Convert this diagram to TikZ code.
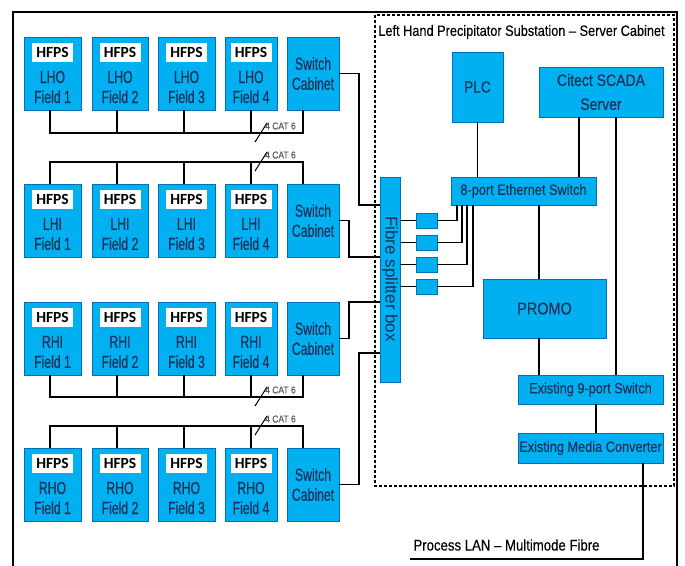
\documentclass[tikz,border=0pt]{standalone}
\usepackage{fontspec}
\setmainfont{Liberation Sans}
\newfontfamily\narrowf[FakeStretch=0.7, FakeBold=0.3]{Liberation Sans}
\newfontfamily\semif[FakeStretch=0.85, FakeBold=0.25]{Liberation Sans}
\newfontfamily\hfpsf{Carlito}
\definecolor{boxfill}{RGB}{0,176,240}
\definecolor{boxline}{RGB}{0,112,180}
\definecolor{boxtext}{RGB}{28,50,90}
\begin{document}
\begin{tikzpicture}[x=1pt,y=-1pt,
  box/.style={draw=boxline, line width=0.8pt, fill=boxfill, inner sep=0pt, outer sep=0pt},
  wire/.style={line width=1.8pt, black},
  wiret/.style={line width=1.4pt, black},
  lbl/.style={font=\hfpsf\bfseries\fontsize{15.5}{16}\selectfont, fill=white, inner sep=0pt, minimum width=41pt, minimum height=19pt, text=black},
  fieldtxt/.style={font=\narrowf\fontsize{17.5}{20}\selectfont, text=boxtext, align=center, inner sep=0pt},
  semitxt/.style={font=\semif\fontsize{15}{18}\selectfont, text=boxtext, align=center},
  cat/.style={font=\semif\fontsize{10}{10}\selectfont, text=black!65, inner sep=0pt, anchor=west},
  slash/.style={line width=1pt, black}
]
\useasboundingbox (0,0) rectangle (685,565);
\fill[white] (0,0) rectangle (685,565);
% outer frame
\draw[line width=1.5pt] (13,566) -- (13,12) -- (677,12) -- (677,566);
% dashed cabinet
\draw[line width=1.6pt, dash pattern=on 3pt off 2pt] (375,15) rectangle (674,486);
\node[font=\semif\fontsize{15}{15}\selectfont, text=black, inner sep=0pt] (title) at (521.5,32) {Left Hand Precipitator Substation – Server Cabinet};

% field rows
\foreach \rn/\RN/\ty in {lho/LHO/37, lhi/LHI/184, rhi/RHI/302, rho/RHO/448} {
  \foreach \i/\cx/\bw in {1/52.5/57, 2/120/56, 3/186.5/57, 4/251/52} {
    \node[box, minimum width=\bw pt, minimum height=73pt] (\rn\i) at (\cx,\ty+36.5) {};
    \node[lbl] (\rn\i-l) at (\cx,\ty+15) {HFPS};
    \node[fieldtxt] (\rn\i-t) at (\cx,\ty+50) {\RN\\Field \i};
  }
  \node[box, minimum width=52pt, minimum height=73pt] (\rn sw) at (313,\ty+36.5) {};
  \node[fieldtxt] (\rn sw-t) at (313,\ty+36.5) {Switch\\Cabinet};
}

% buses
\draw[wire] ([xshift=-2.5pt]lho1.south) -- ++(0,23) -| ([xshift=-10pt]lhosw.south);
\draw[wire] ([xshift=-2.5pt]lhi1.north) -- ++(0,-22) -| ([xshift=-10pt]lhisw.north);
\draw[wire] ([xshift=-2.5pt]rhi1.south) -- ++(0,22) -| ([xshift=-10pt]rhisw.south);
\draw[wire] ([xshift=-2.5pt]rho1.north) -- ++(0,-22) -| ([xshift=-10pt]rhosw.north);
\foreach \i/\s in {2/-3, 3/-2.5, 4/0} {
  \draw[wire] ([xshift=\s pt]lho\i.south) -- ++(0,23);
  \draw[wire] ([xshift=\s pt]lhi\i.north) -- ++(0,-22);
  \draw[wire] ([xshift=\s pt]rhi\i.south) -- ++(0,22);
  \draw[wire] ([xshift=\s pt]rho\i.north) -- ++(0,-22);
}
% cable slashes and labels
\draw[slash] (255,142) -- (267,123);
\draw[slash] (255,171) -- (267,152);
\draw[slash] (255,406) -- (267,387);
\draw[slash] (255,435) -- (267,416);
\node[cat] (cat1) at (265,126) {4 CAT 6};
\node[cat] (cat2) at (265,155) {4 CAT 6};
\node[cat] (cat3) at (265,390) {4 CAT 6};
\node[cat] (cat4) at (265,419) {4 CAT 6};

% fibre splitter box
\node[box, minimum width=20pt, minimum height=205pt] (fibre) at (390,279.5) {};
\node[rotate=-90, font=\fontsize{17}{17}\selectfont, text=boxtext, inner sep=0pt] (fibre-t) at (390,279) {Fibre splitter box};

% switch cabinets to fibre box
\draw[wire] (lhosw.east) -- ++(20,0) |- ([yshift=74.5pt]fibre.west);
\draw[wire] (lhisw.east) -- ++(10,0) |- ([yshift=22.5pt]fibre.west);
\draw[wire] (rhisw.east) -- ++(10,0) |- ([yshift=-22.5pt]fibre.west);
\draw[wire] (rhosw.east) -- ++(20,0) |- ([yshift=-73.5pt]fibre.west);

% cabinet equipment
\node[box, minimum width=51pt, minimum height=70pt, semitxt, font=\semif\fontsize{16}{16}\selectfont] (plc) at (477.5,87) {PLC};
\node[box, minimum width=124pt, minimum height=50pt, semitxt, font=\semif\fontsize{16.5}{24}\selectfont] (citect) at (601,92) {Citect SCADA\\Server};
\node[box, minimum width=145pt, minimum height=28pt, semitxt] (eth) at (523.5,191) {8-port Ethernet Switch};
\node[box, minimum width=123pt, minimum height=59pt, semitxt, font=\semif\fontsize{17}{17}\selectfont] (promo) at (544.5,308.5) {PROMO};
\node[box, minimum width=145pt, minimum height=29pt, semitxt] (sw9) at (590.5,389.5) {Existing 9-port Switch};
\node[box, minimum width=145pt, minimum height=30pt, semitxt] (mc) at (590.5,448) {Existing Media Converter};
\foreach \k/\yy in {1/220.5, 2/242.5, 3/264.5, 4/286.5}
  \node[box, minimum width=21pt, minimum height=15pt] (sb\k) at (426.5,\yy) {};

\foreach \k in {1,...,4}
  \draw[wiret] (sb\k.west) -- (sb\k.west -| fibre.east);
\foreach \k/\s in {1/-66.5, 2/-61.5, 3/-56.5, 4/-50.5}
  \draw[wiret] (sb\k.east) -| ([xshift=\s pt]eth.south);

\draw[wiret] (plc.south) -- (plc.south |- eth.north);
\draw[wiret] ([xshift=-22pt]citect.south) -- ++(0,60);
\draw[wiret] ([xshift=15pt]citect.south) -- ++(0,258);
\draw[wiret] ([xshift=15.5pt]eth.south) -- ++(0,74);
\draw[wiret] ([xshift=-5.5pt]promo.south) -- ++(0,37);
\draw[wiret] ([xshift=5.5pt]sw9.south) -- ++(0,29);

\coordinate (lanend) at (410,559);
\draw[wire] ([xshift=52.5pt]mc.south) |- (lanend);
\node[font=\semif\fontsize{15.5}{15.5}\selectfont, text=black, inner sep=0pt] (lan) at (506.5,545) {Process LAN – Multimode Fibre};
\end{tikzpicture}
\end{document}
